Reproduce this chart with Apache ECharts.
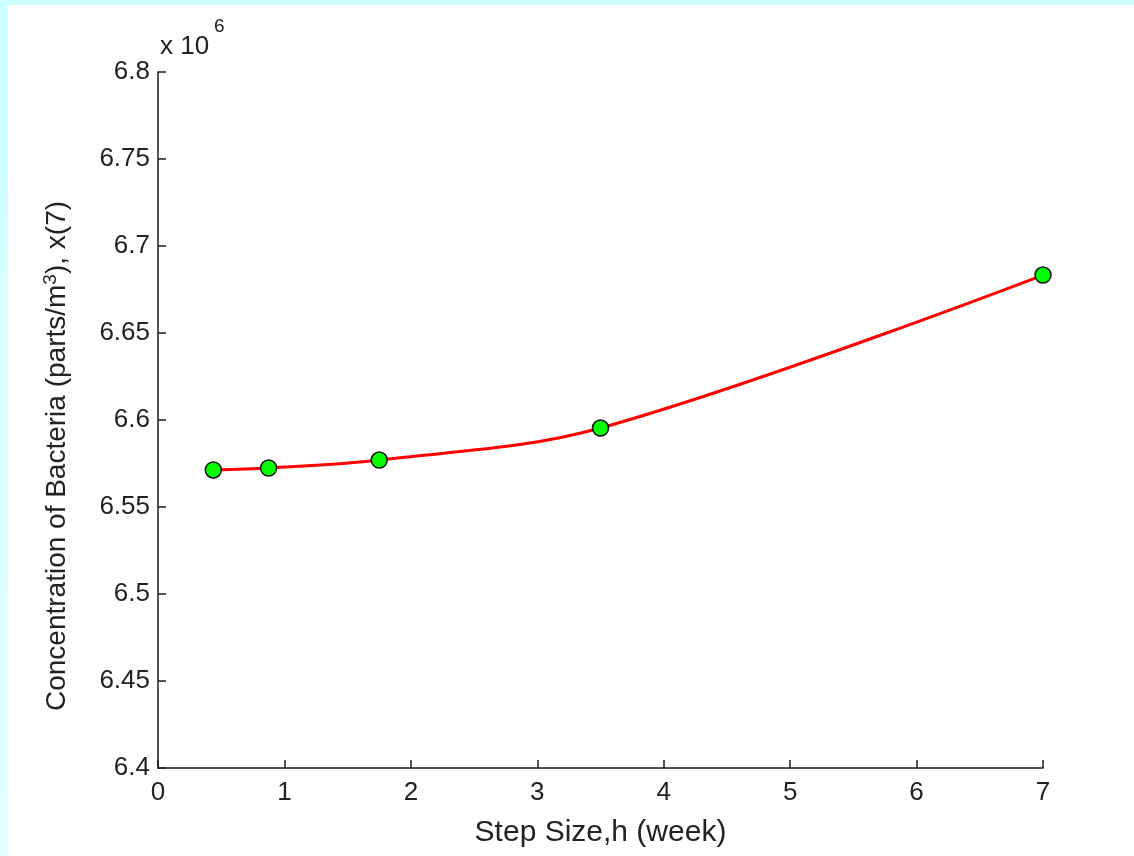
<!DOCTYPE html>
<html>
<head>
<meta charset="utf-8">
<script src="https://cdn.jsdelivr.net/npm/echarts@6/dist/echarts.min.js"></script>
<style>html,body{margin:0;padding:0;background:#fff;}#c{width:1134px;height:856px;}</style>
</head>
<body>
<div id="c"></div>
<script>
// Step size h (weeks)
const stepSizes = [0.4375, 0.875, 1.75, 3.5, 7];
// Concentration x(7), in units of 10^6 parts/m^3
const concentration = [6.5713, 6.5724, 6.5770, 6.5954, 6.6833];
const xTicks = {min: 0, max: 7, interval: 1};
const yTicks = {min: 6.4, max: 6.8, interval: 0.05};
const xTitle = 'Step Size,h (week)';
const yTitleMain = 'Concentration of Bacteria (parts/m';
const yTitleSup = '3';
const yTitleEnd = '), x(7)';

const font = '"Liberation Sans", Arial, Helvetica, sans-serif';
const pts = stepSizes.map((x, i) => [x, concentration[i]]);
const chart = echarts.init(document.getElementById('c'), null, {renderer: 'canvas'});
const axisCommon = {
  axisLine: {show: true, lineStyle: {color: '#1a1a1a', width: 1.5}},
  axisTick: {show: true, inside: true, length: 8, lineStyle: {color: '#1a1a1a', width: 1.5}},
  splitLine: {show: false},
  axisLabel: {color: '#222', fontFamily: font, fontSize: 26}
};
chart.setOption({
  backgroundColor: '#ffffff',
  animation: false,
  grid: {left: 158, right: 91, top: 72, bottom: 88},
  graphic: [
    {type: 'rect', shape: {x: 0, y: 0, width: 1134, height: 5}, style: {fill: '#ccffff'}},
    {type: 'rect', shape: {x: 0, y: 0, width: 8, height: 856}, style: {fill: {type: 'linear', x: 0, y: 0, x2: 0, y2: 1, colorStops: [{offset: 0, color: '#ccffff'}, {offset: 1, color: '#e2ffff'}]}}},
    {type: 'text', left: 160, top: 34, style: {text: 'x 10', font: '26px ' + font, fill: '#222'}},
    {type: 'text', left: 214, top: 17, style: {text: '6', font: '19px ' + font, fill: '#222'}},
    {type: 'text', x: 57, y: 456, rotation: Math.PI / 2,
      style: {
        text: '{m|' + yTitleMain + '}{s|' + yTitleSup + '}{m|' + yTitleEnd + '}',
        align: 'center', verticalAlign: 'middle',
        rich: {
          m: {font: '28px ' + font, fill: '#222', color: '#222'},
          s: {font: '19px ' + font, fill: '#222', color: '#222', verticalAlign: 'top', padding: [0, 0, 12, 0]}
        }
      }}
  ],
  xAxis: Object.assign({
    type: 'value', min: xTicks.min, max: xTicks.max, interval: xTicks.interval,
    name: xTitle, nameLocation: 'middle', nameGap: 50,
    nameTextStyle: {color: '#222', fontFamily: font, fontSize: 30}
  }, axisCommon, {axisLabel: Object.assign({}, axisCommon.axisLabel, {margin: 12})}),
  yAxis: Object.assign({
    type: 'value', min: yTicks.min, max: yTicks.max, interval: yTicks.interval
  }, axisCommon, {axisLabel: Object.assign({}, axisCommon.axisLabel, {margin: 8})}),
  series: [{
    type: 'line',
    data: pts,
    smooth: 0.35,
    lineStyle: {color: '#ff0000', width: 3},
    symbol: 'circle',
    symbolSize: 16,
    itemStyle: {color: '#00ff00', borderColor: '#111', borderWidth: 1.5},
    z: 3
  }]
});
</script>
</body>
</html>
